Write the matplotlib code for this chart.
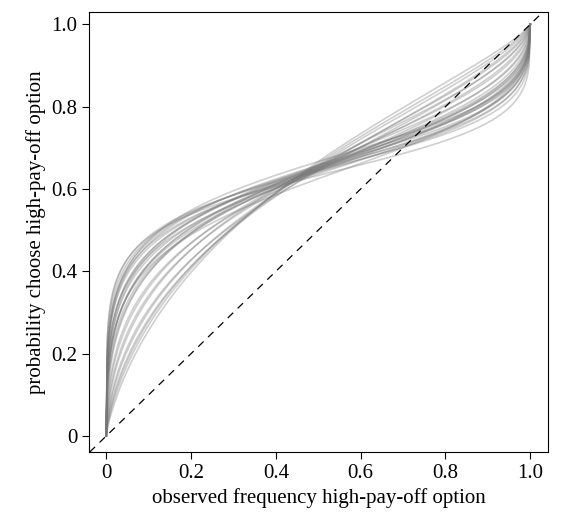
import matplotlib
matplotlib.use('Agg')
import matplotlib.pyplot as plt
import numpy as np

# exponent (a) and bias (b) per fitted curve: y = x^a / (x^a + b (1-x)^a)
exponents = [0.28, 0.30, 0.32, 0.33, 0.34, 0.35, 0.36, 0.37, 0.38, 0.39,
             0.40, 0.41, 0.42, 0.43, 0.44, 0.45, 0.47, 0.49, 0.52, 0.55,
             0.58, 0.61, 0.64, 0.67, 0.70, 0.73, 0.76, 0.80, 0.36, 0.40]
biases = [0.58, 0.55, 0.54, 0.56, 0.53, 0.55, 0.52, 0.57, 0.54, 0.53,
          0.55, 0.52, 0.56, 0.54, 0.53, 0.55, 0.54, 0.52, 0.55, 0.53,
          0.54, 0.52, 0.55, 0.53, 0.54, 0.52, 0.51, 0.50, 0.50, 0.60]

x = np.linspace(0, 1, 400)

plt.rcParams['font.family'] = ['Liberation Serif', 'DejaVu Serif']
fig, ax = plt.subplots(figsize=(5.65, 5.22), dpi=100)
fig.subplots_adjust(left=0.158, right=0.97, top=0.977, bottom=0.134)

for a, b in zip(exponents, biases):
    y = x**a / (x**a + b * (1 - x)**a)
    ax.plot(x, y, color='#777777', alpha=0.35, lw=1.2)

ax.axline((0, 0), (1, 1), color='black', ls=(0, (6, 5)), lw=0.9)

ax.set_xlim(-0.04, 1.042)
ax.set_ylim(-0.039, 1.03)
ticks = [0, 0.2, 0.4, 0.6, 0.8, 1.0]
labels = ['0', '0.2', '0.4', '0.6', '0.8', '1.0']
ax.set_xticks(ticks, labels)
ax.set_yticks(ticks, labels)
ax.tick_params(labelsize=15, direction='out', length=5)
ax.set_xlabel('observed frequency high-pay-off option', fontsize=15)
ax.set_ylabel('probability choose high-pay-off option', fontsize=15)

plt.savefig('out.png')
